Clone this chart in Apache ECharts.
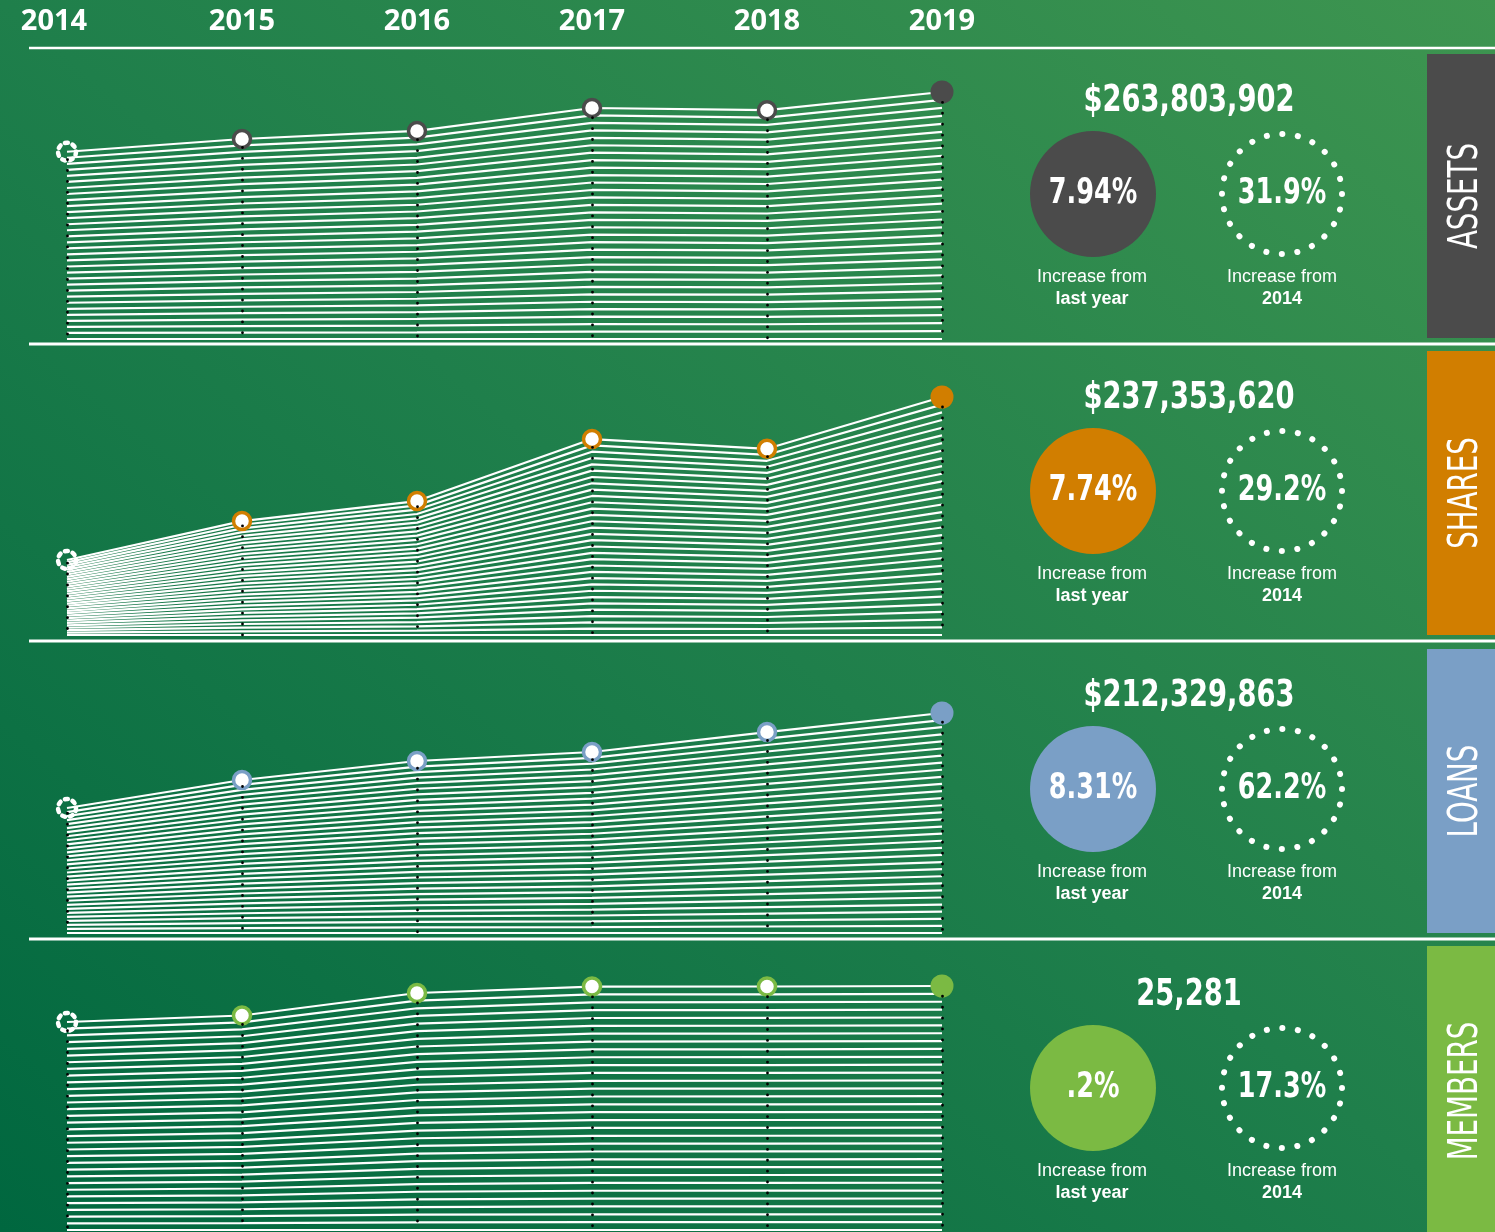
<!DOCTYPE html>
<html>
<head>
<meta charset="utf-8">
<script src="https://cdn.jsdelivr.net/npm/echarts@6/dist/echarts.min.js"></script>
<style>
html, body { margin: 0; padding: 0; }
#chart {
  width: 1495px;
  height: 1232px;
  background: linear-gradient(to top right, #00673f 0%, #1f7f4b 50%, #3e9550 100%);
}
</style>
</head>
<body>
<div id="chart"></div>
<script>
// x axis
const years = [2014, 2015, 2016, 2017, 2018, 2019];
const yearLabels = ['2014', '2015', '2016', '2017', '2018', '2019'];

// values ($ millions, members in people)
const assets = [200.0, 213.6, 222.2, 246.7, 244.4, 263.8];
const shares = [183.7, 196.5, 203.1, 223.5, 220.3, 237.35];
const loans = [130.9, 154.9, 171.2, 178.9, 196.0, 212.33];
const members = [21553, 22226, 24557, 25220, 25231, 25281];

// right hand texts
const panelNames = ['ASSETS', 'SHARES', 'LOANS', 'MEMBERS'];
const totals = ['$263,803,902', '$237,353,620', '$212,329,863', '25,281'];
const lastYearPct = ['7.94%', '7.74%', '8.31%', '.2%'];
const since2014Pct = ['31.9%', '29.2%', '62.2%', '17.3%'];

const NARROW = '"Liberation Sans Narrow", "DejaVu Sans Condensed", "Roboto", sans-serif';
const N = 32; // white lines in each band

// layout of each band (pixels) and its y range
const panels = [
  { data: assets, color: '#4b4b4b', top: 92, base: 339, lo: 0, hi: 263.8, dy: 0, tabTop: 54, tabH: 284 },
  { data: shares, color: '#d17e00', top: 397, base: 635, lo: 159.0, hi: 237.35, dy: 297, tabTop: 351, tabH: 284 },
  { data: loans, color: '#7a9fc6', top: 713, base: 933, lo: 23.8, hi: 212.33, dy: 595, tabTop: 649, tabH: 284 },
  { data: members, color: '#7bba43', top: 986, base: 1230, lo: 0, hi: 25281, dy: 894, tabTop: 946, tabH: 290 }
];
const separators = [48, 344, 641, 939];

const chart = echarts.init(document.getElementById('chart'));

const grids = [], xAxes = [], yAxes = [], series = [], graphics = [];

function centerText(x, y, text, font, sx) {
  return {
    type: 'text', x: x, y: y, scaleX: sx || 1,
    style: { text: text, fill: '#fff', font: font, textAlign: 'center', textVerticalAlign: 'middle' }
  };
}

panels.forEach((p, pi) => {
  grids.push({ left: 67, right: 553, top: p.top, height: p.base - p.top });
  xAxes.push({
    type: 'value', gridIndex: pi, min: 2014, max: 2019, interval: 1,
    position: 'top', offset: 70,
    axisLine: { show: false }, axisTick: { show: false }, splitLine: { show: false },
    axisLabel: {
      show: pi === 0, margin: 0, verticalAlign: 'middle',
      color: '#fff', fontSize: 29, fontWeight: 'bold', fontFamily: '"Open Sans", sans-serif',
      formatter: v => v === 2014 ? '{first|' + yearLabels[0] + '}' : yearLabels[years.indexOf(v)],
      rich: {
        first: { color: '#fff', fontSize: 29, fontWeight: 'bold', fontFamily: '"Open Sans", sans-serif', padding: [0, 26, 0, 0] }
      }
    }
  });
  yAxes.push({ type: 'value', gridIndex: pi, min: p.lo, max: p.hi, show: false });

  // stacked white lines, each one a scaled copy of the band's line
  for (let k = 0; k < N - 1; k++) {
    const f = k / (N - 1);
    series.push({
      type: 'line', xAxisIndex: pi, yAxisIndex: pi, silent: true, animation: false,
      symbol: 'none', z: 2,
      lineStyle: { color: '#fff', width: 2.2 },
      data: p.data.map((v, i) => [years[i], p.lo + (v - p.lo) * f])
    });
  }

  // dotted year guides
  series.push({
    type: 'line', xAxisIndex: pi, yAxisIndex: pi, silent: true, animation: false,
    symbol: 'none', z: 3, lineStyle: { width: 0, opacity: 0 },
    data: p.data.map((v, i) => [years[i], v]),
    markLine: {
      silent: true, animation: false, symbol: ['none', 'none'],
      label: { show: false },
      lineStyle: { color: '#000', width: 2.8, type: [0.1, 10.8], cap: 'round' },
      emphasis: { disabled: true },
      data: p.data.map((v, i) => [
        { coord: [years[i], p.lo + (v - p.lo) * (N - 2.3) / (N - 1)] },
        { coord: [years[i], p.lo] }
      ])
    }
  });

  // top line with markers
  series.push({
    type: 'line', xAxisIndex: pi, yAxisIndex: pi, silent: true, animation: false,
    z: 4, clip: false, showAllSymbol: true,
    lineStyle: { color: '#fff', width: 2.2 },
    data: p.data.map((v, i) => {
      const item = { value: [years[i], v], symbol: 'circle' };
      if (i === 0) {
        item.symbolSize = 18;
        item.itemStyle = { color: 'rgba(0,0,0,0)', borderColor: '#fff', borderWidth: 4.5, borderType: [3, 5], borderCap: 'round' };
      } else if (i === years.length - 1) {
        item.symbolSize = 23;
        item.itemStyle = { color: p.color, borderWidth: 0 };
      } else {
        item.symbolSize = 17;
        item.itemStyle = { color: '#fff', borderColor: p.color, borderWidth: 3.5 };
      }
      return item;
    })
  });

  // right hand side
  const cy = 194 + p.dy;
  graphics.push(
    { type: 'rect', shape: { x: 1427, y: p.tabTop, width: 68, height: p.tabH }, style: { fill: p.color } },
    {
      type: 'text', x: 1467, y: p.tabTop + p.tabH / 2, rotation: Math.PI / 2, scaleX: 0.77,
      style: { text: panelNames[pi], fill: '#fff', font: '40px ' + NARROW, textAlign: 'center', textVerticalAlign: 'middle' }
    },
    centerText(1189, 101 + p.dy, totals[pi], 'bold 38px ' + NARROW, 0.8),
    { type: 'circle', shape: { cx: 1093, cy: cy, r: 63 }, style: { fill: p.color } },
    centerText(1093, cy, lastYearPct[pi], 'bold 35px ' + NARROW, 0.81),
    {
      type: 'circle', shape: { cx: 1282, cy: cy, r: 60 },
      style: { fill: 'none', stroke: '#fff', lineWidth: 6, lineDash: [0.1, 15.6], lineCap: 'round' }
    },
    centerText(1282, cy, since2014Pct[pi], 'bold 35px ' + NARROW, 0.81),
    centerText(1092, cy + 83, 'Increase from', '18px "Liberation Sans", sans-serif'),
    centerText(1092, cy + 105, 'last year', 'bold 18px "Liberation Sans", sans-serif'),
    centerText(1282, cy + 83, 'Increase from', '18px "Liberation Sans", sans-serif'),
    centerText(1282, cy + 105, '2014', 'bold 18px "Liberation Sans", sans-serif')
  );
});

separators.forEach((y, i) => {
  graphics.push({
    type: 'line', shape: { x1: 29, y1: y, x2: 1495, y2: y },
    style: { stroke: '#fff', lineWidth: i === 0 ? 2.5 : 3 }
  });
});

chart.setOption({
  backgroundColor: 'transparent',
  animation: false,
  grid: grids,
  xAxis: xAxes,
  yAxis: yAxes,
  series: series,
  graphic: { elements: graphics }
});
</script>
</body>
</html>
